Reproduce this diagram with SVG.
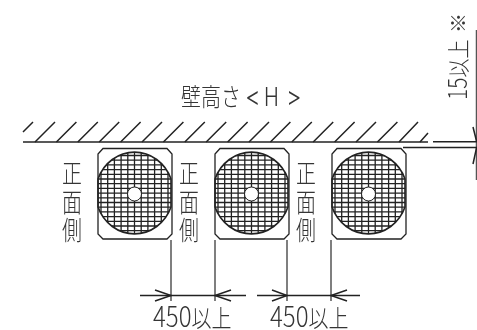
<svg xmlns="http://www.w3.org/2000/svg" xmlns:xlink="http://www.w3.org/1999/xlink" width="477" height="330" viewBox="0 0 477 330">
<style>
text{font-family:"Noto Sans CJK JP","Liberation Sans",sans-serif;fill:#333;font-weight:300}
.t{font-size:21px;text-anchor:middle}
.n{font-size:24px}
.c{font-size:20px}
.a{font-family:"Inter","Liberation Sans",sans-serif;font-size:20px;font-weight:300}
.b{font-family:"Inter","Liberation Sans",sans-serif;font-size:24px;font-weight:300}
.l{fill:none;stroke:#222;stroke-width:1.5}
.d{fill:none;stroke:#555;stroke-width:1.5}
.g{fill:none;stroke:#222;stroke-width:1.3}
</style>
<defs>
<clipPath id="fan"><path d="M98 179A39 41.500 0 0 1 171 179V207A39 41.500 0 0 1 98 207Z"/></clipPath>
<g id="unit">
<path class="g" d="M103 148.500H167L172 154V234L167 239H103L98 234V154Z"/>
<g clip-path="url(#fan)">
<path class="g" d="M98 155.500H172M98 160.200H172M98 164.900H172M98 169.600H172M98 174.300H172M98 179H172M98 183.700H172M98 188.400H172M98 193.100H172M98 197.800H172M98 202.500H172M98 207.200H172M98 211.900H172M98 216.600H172M98 221.300H172M98 226H172M98 230.700H172"/>
<path class="g" d="M101 150V236M107.700 150V236M114.400 150V236M121.100 150V236M127.800 150V236M134.500 150V236M141.200 150V236M147.900 150V236M154.600 150V236M161.300 150V236M168 150V236"/>
</g>
<path d="M98 179A39 41.500 0 0 1 171 179V207A39 41.500 0 0 1 98 207Z" fill="none" stroke="#222" stroke-width="1.6"/>
<circle cx="134.500" cy="194" r="7" fill="#fff" stroke="#222" stroke-width="1"/>
</g>
</defs>
<g id="wall">
<path class="l" d="M23 142H428"/>
<path class="l" d="M23 132L33 122M35 142L55 122M56.400 142L76.400 122M77.800 142L97.800 122M99.200 142L119.200 122M120.600 142L140.600 122M142 142L162 122M163.400 142L183.400 122M184.800 142L204.800 122M206.200 142L226.200 122M227.600 142L247.600 122M249 142L269 122M270.400 142L290.400 122M291.800 142L311.800 122M313.200 142L333.200 122M334.600 142L354.600 122M356 142L376 122M377.400 142L397.400 122M399 142L418 122M420 142L428 133"/>
</g>
<g id="unit1"><use href="#unit" xlink:href="#unit"/></g>
<g id="unit2"><use href="#unit" xlink:href="#unit" x="117"/></g>
<g id="unit3"><use href="#unit" xlink:href="#unit" x="234"/></g>
<g id="labels" opacity=".99">
<text class="t" transform="translate(72 183) scale(.95 1.25)"><tspan x="0">正</tspan><tspan x="0" dy="23">面</tspan><tspan x="0" dy="23">側</tspan></text>
<text class="t" transform="translate(189 183) scale(.95 1.25)"><tspan x="0">正</tspan><tspan x="0" dy="23">面</tspan><tspan x="0" dy="23">側</tspan></text>
<text class="t" transform="translate(306 183) scale(.95 1.25)"><tspan x="0">正</tspan><tspan x="0" dy="23">面</tspan><tspan x="0" dy="23">側</tspan></text>
<text class="c" transform="translate(181 106) scale(1 1.25)">壁高さ</text>
<text class="b" transform="translate(245 106) scale(1 1.1)">&lt;</text>
<text class="a" transform="translate(264 106) scale(1 1.25)">H</text>
<text class="b" transform="translate(286 106) scale(1 1.1)">&gt;</text>
<text transform="translate(153 327) scale(1 1.2)"><tspan class="n">450</tspan><tspan class="c">以上</tspan></text>
<text transform="translate(270 327) scale(1 1.2)"><tspan class="n">450</tspan><tspan class="c">以上</tspan></text>
<text transform="translate(467 100) rotate(-90) scale(1 1.2)"><tspan font-size="21">15</tspan><tspan font-size="19">以上</tspan></text>
<text x="458" y="31" font-size="20" text-anchor="middle" transform="rotate(-90 458 23)">※</text>
</g>
<g id="connectors">
<path class="d" d="M171 240V301M215 240V301M287 240V301M331 240V301M476.500 30V180"/>
<path class="l" d="M140 295.500H246M257 295.500H360M433 141.700H477M403 147.500H477"/>
<path class="l" d="M155 290L171 295.500L155 301M231 290L215 295.500L231 301M272 290L287 295.500L272 301M347 290L331 295.500L347 301M473 127L476.500 141M473 164L476.500 148"/>
</g>
</svg>
